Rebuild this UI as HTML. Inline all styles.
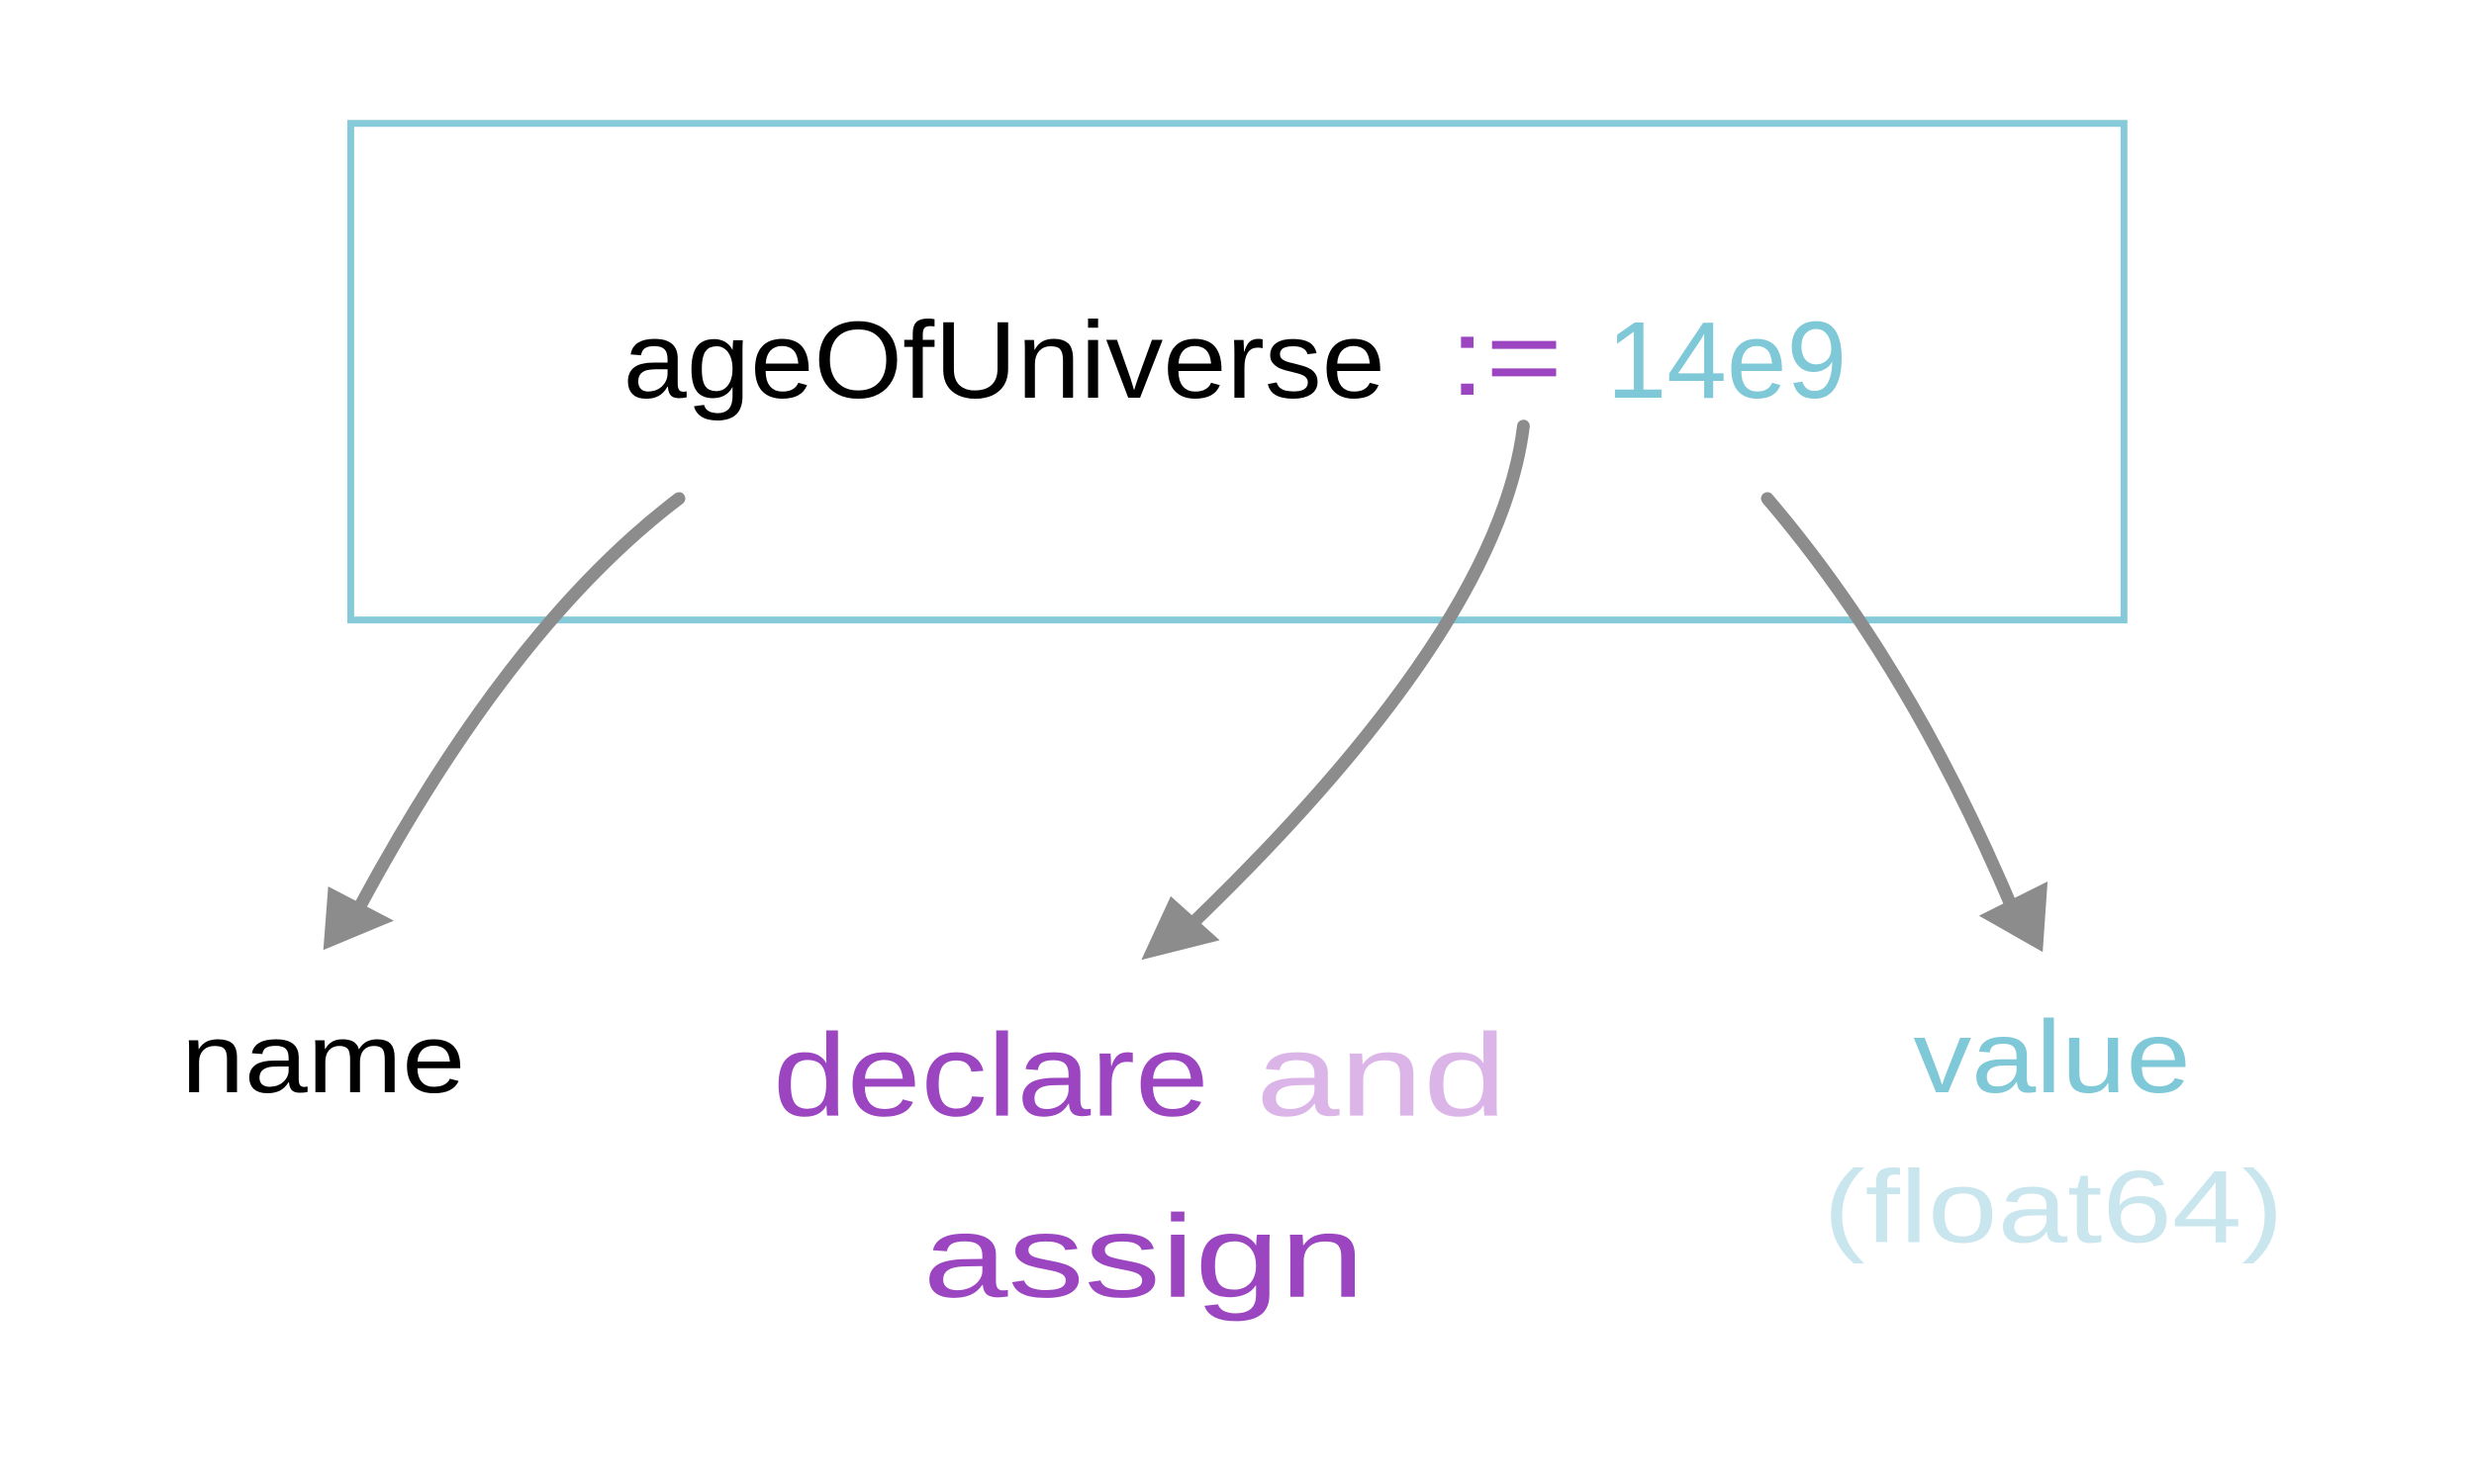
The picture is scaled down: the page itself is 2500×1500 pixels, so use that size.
<!DOCTYPE html>
<html><head><meta charset="utf-8"><style>
html,body{margin:0;padding:0;background:#fff;}
svg{display:block;}
text{font-family:"Liberation Sans",sans-serif;}
</style></head><body>
<svg width="2500" height="1500" viewBox="0 0 2500 1500" xmlns="http://www.w3.org/2000/svg">
<g transform="scale(0.99)">
<rect x="358" y="126" width="1810" height="507" fill="none" stroke="#86c9d8" stroke-width="7"/>
<text x="636" y="406" font-size="112" fill="#000" textLength="778" lengthAdjust="spacingAndGlyphs">ageOfUniverse</text>
<text x="1479" y="403" font-size="112" fill="#9b45c0" textLength="116" lengthAdjust="spacingAndGlyphs">:=</text>
<text x="1640" y="406" font-size="112" fill="#7ec8d8" textLength="245" lengthAdjust="spacingAndGlyphs">14e9</text>
<g stroke="#8c8c8c" stroke-width="13" fill="none" stroke-linecap="round">
<path d="M693 509 Q520 640 365 930"/>
<path d="M1555 435 Q1530 640 1220 940"/>
<path d="M1804 509 Q1950 680 2055 930"/>
</g>
<g fill="#8c8c8c">
<polygon points="330,970 335,905 402,940"/>
<polygon points="1165,980 1195,915 1245,960"/>
<polygon points="2085,972 2020,935 2090,900"/>
</g>
<text x="185" y="1115" font-size="100" fill="#000" textLength="290" lengthAdjust="spacingAndGlyphs">name</text>
<text x="789" y="1139" font-size="120" fill="#9b45c0" textLength="445" lengthAdjust="spacingAndGlyphs">declare</text>
<text x="1282" y="1139" font-size="120" fill="#dcb5e8" textLength="256" lengthAdjust="spacingAndGlyphs">and</text>
<text x="942" y="1324" font-size="120" fill="#9b45c0" textLength="451" lengthAdjust="spacingAndGlyphs">assign</text>
<text x="1953" y="1115" font-size="105" fill="#7ec8d8" textLength="283" lengthAdjust="spacingAndGlyphs">value</text>
<text x="1861" y="1268" font-size="105" fill="#c9e6ee" textLength="470" lengthAdjust="spacingAndGlyphs">(float64)</text>
</g>
</svg>
</body></html>
